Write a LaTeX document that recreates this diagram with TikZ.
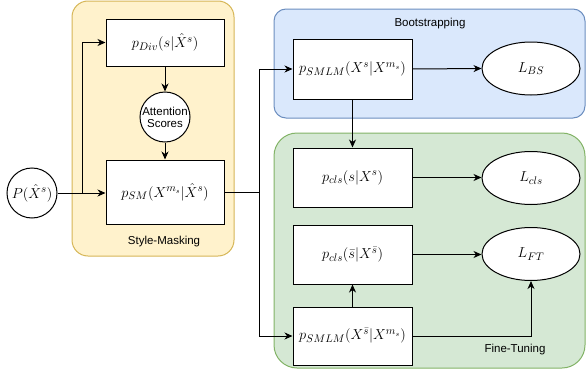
\documentclass[tikz,border=0pt]{standalone}
\usepackage{fontspec}
\setsansfont{Liberation Sans}
\usetikzlibrary{arrows.meta,shapes.geometric}
\definecolor{yfill}{HTML}{FFF2CC}\definecolor{ydraw}{HTML}{D6B656}
\definecolor{bfill}{HTML}{DAE8FC}\definecolor{bdraw}{HTML}{6C8EBF}
\definecolor{gfill}{HTML}{D5E8D4}\definecolor{gdraw}{HTML}{82B366}
\tikzset{
  box/.style={draw=black,fill=white,line width=1pt,inner sep=0pt,minimum width=118pt,font=\fontsize{15}{18}\selectfont},
  circ/.style={circle,draw=black,fill=white,line width=1pt,inner sep=0pt,minimum size=50pt},
  ell/.style={ellipse,draw=black,fill=white,line width=1pt,inner sep=0pt,minimum width=98pt,minimum height=53pt,font=\fontsize{15}{18}\selectfont},
  group/.style={rounded corners=#1,line width=1pt},
  lab/.style={font=\sffamily\fontsize{11.5}{13}\selectfont},
  arr/.style={line width=1pt,-{Stealth[length=8pt,width=7pt,inset=2.5pt]}},
  ln/.style={line width=1pt}
}
\begin{document}
\begin{tikzpicture}[x=1pt,y=-1pt]
\useasboundingbox (0,0) rectangle (586,380);
% groups
\draw[group=16,fill=yfill,draw=ydraw] (72,1) rectangle (234,256);
\draw[group=12,fill=bfill,draw=bdraw] (274,9) rectangle (585,118);
\draw[group=23,fill=gfill,draw=gdraw] (274,133) rectangle (585,368);
\node[lab] (tSM) at (164,242) {Style-Masking};
\node[lab] (tBS) at (430,24) {Bootstrapping};
\node[lab] (tFT) at (515,350) {Fine-Tuning};
% nodes
\node[circ,font=\fontsize{15}{18}\selectfont] (P) at (32,193) {$P(\hat{X}^s)$};
\node[box,minimum height=47pt] (pDiv) at (165,42.5) {$p_{Div}(s|\hat{X}^s)$};
\node[circ,font=\sffamily\fontsize{11.5}{13}\selectfont,align=center] (att) at (165,117) {Attention\\[-1pt]Scores};
\node[box,minimum height=64pt] (pSM) at (165,192) {$p_{SM}(X^{m_s}|\hat{X}^s)$};
\node[box,minimum width=119pt,minimum height=60pt] (smlm1) at (352.5,69) {$p_{SMLM}(X^s|X^{m_s})$};
\node[box,minimum width=119pt,minimum height=59pt] (cls1) at (352.5,177.5) {$p_{cls}(s|X^s)$};
\node[box,minimum width=119pt,minimum height=59pt] (cls2) at (352.5,254.5) {$p_{cls}(\bar{s}|X^{\bar{s}})$};
\node[box,minimum width=119pt,minimum height=58pt] (smlm2) at (352.5,336) {$p_{SMLM}(X^{\bar{s}}|X^{m_s})$};
\node[ell] (LBS) at (531,68.5) {$L_{BS}$};
\node[ell] (Lcls) at (531,178) {$L_{cls}$};
\node[ell] (LFT) at (531,254) {$L_{FT}$};
% junctions
\coordinate (j1) at (82,193);
\coordinate (j2) at (259,192);
% edges
\draw[arr] (P.east) -- (pSM.west |- P.east);
\draw[arr] (j1) |- (pDiv.west);
\draw[arr] (pDiv.south) -- (att.north);
\draw[arr] (att.south) -- (pSM.north);
\draw[ln] (pSM.east) -- (j2);
\draw[arr] (j2) |- (smlm1.west);
\draw[arr] (j2) |- (smlm2.west);
\draw[arr] (smlm1.east) -- (LBS.west);
\draw[arr] (smlm1.south) -- (cls1.north);
\draw[arr] (cls1.east) -- (Lcls.west |- cls1.east);
\draw[arr] (cls2.east) -- (LFT.west |- cls2.east);
\draw[arr] (smlm2.north) -- (cls2.south);
\draw[arr] (smlm2.east) -| (LFT.south);
\end{tikzpicture}
\end{document}
